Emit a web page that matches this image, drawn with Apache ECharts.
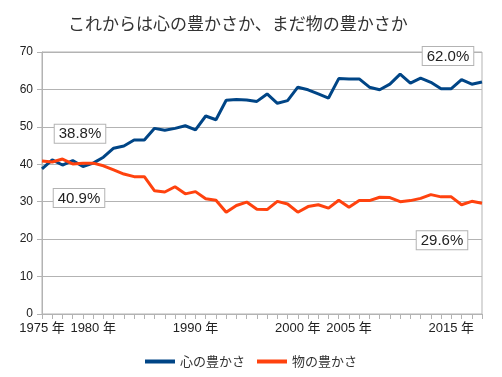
<!DOCTYPE html>
<html>
<head>
<meta charset="utf-8">
<script src="https://cdn.jsdelivr.net/npm/echarts@6/dist/echarts.min.js"></script>
<style>
  html, body { margin: 0; padding: 0; background: #fff; }
  #chart { width: 502px; height: 377px; }
</style>
</head>
<body>
<div id="chart"></div>
<script>
// 調査年
const years = []
for (let y = 1975; y <= 2018; y++) years.push(y)
const shownYears = [1975, 1980, 1990, 2000, 2005, 2015]

const kokoro = [
  38.8, 41.2, 39.8, 41.0, 39.4, 40.3, 41.9, 44.3, 44.9, 46.5,
  46.5, 49.6, 49.1, 49.6, 50.3, 49.2, 52.9, 51.9, 57.1, 57.3,
  57.2, 56.8, 58.8, 56.3, 57.0, 60.6, 59.9, 58.8, 57.7, 62.9,
  62.8, 62.8, 60.6, 59.9, 61.4, 64.1, 61.7, 63.0, 61.9, 60.2,
  60.2, 62.6, 61.4, 62.0
]
const mono = [
  40.9, 40.6, 41.4, 40.1, 40.3, 40.3, 39.6, 38.5, 37.4, 36.7,
  36.7, 32.9, 32.6, 34.0, 32.1, 32.7, 30.8, 30.4, 27.2, 29.0,
  29.9, 28.0, 27.9, 30.1, 29.4, 27.2, 28.7, 29.2, 28.3, 30.4,
  28.5, 30.3, 30.3, 31.2, 31.1, 30.0, 30.3, 30.9, 31.9, 31.3,
  31.3, 29.2, 30.1, 29.6
]

const font = "'Liberation Sans', 'Noto Sans CJK JP', sans-serif"

const boxLabel = {
  show: true,
  formatter: p => p.value.toFixed(1) + '%',
  fontSize: 15,
  fontFamily: font,
  color: '#222',
  backgroundColor: '#fff',
  borderColor: '#b3b3b3',
  borderWidth: 1,
  padding: [2, 4, 1, 4]
}

// 最初と最後の点だけにラベルを付ける
function withLabels(values, firstPos, firstOff, lastPos, lastOff) {
  return values.map((v, i) => {
    if (i === 0) return { value: v, label: Object.assign({}, boxLabel, { position: firstPos, offset: firstOff }) }
    if (i === values.length - 1) return { value: v, label: Object.assign({}, boxLabel, { position: lastPos, offset: lastOff }) }
    return v
  })
}

let myChart = echarts.init(document.getElementById('chart'))
let option = {
  backgroundColor: '#fff',
  animation: false,
  title: {
    text: 'これからは心の豊かさか、まだ物の豊かさか',
    left: 63,
    top: 10,
    textStyle: {
      fontSize: 17,
      fontWeight: 'normal',
      color: '#333',
      fontFamily: "'Noto Sans CJK JP', sans-serif"
    }
  },
  legend: {
    top: 350,
    left: 'center',
    icon: 'rect',
    itemWidth: 30,
    itemHeight: 4,
    itemGap: 12,
    textStyle: { fontSize: 13, color: '#333', fontFamily: "'Noto Sans CJK JP', sans-serif" },
    data: ['心の豊かさ', '物の豊かさ']
  },
  grid: {
    left: 42,
    right: 20,
    top: 52,
    bottom: 63,
    show: true,
    borderColor: '#b3b3b3',
    borderWidth: 1
  },
  xAxis: {
    type: 'category',
    boundaryGap: false,
    data: years.map(y => y + ' 年'),
    axisLine: { lineStyle: { color: '#b3b3b3' } },
    axisTick: { show: true, interval: 0, length: 5, lineStyle: { color: '#b3b3b3' } },
    axisLabel: {
      interval: (i) => shownYears.includes(years[i]),
      color: '#222',
      fontSize: 13,
      fontFamily: font,
      margin: 8
    },
    splitLine: { show: false }
  },
  yAxis: {
    type: 'value',
    min: 0,
    max: 70,
    interval: 10,
    axisLine: { show: true, lineStyle: { color: '#b3b3b3' } },
    axisTick: { show: true, length: 5, lineStyle: { color: '#b3b3b3' } },
    axisLabel: { color: '#222', fontSize: 12, fontFamily: font, margin: 9 },
    splitLine: { lineStyle: { color: '#b3b3b3' } }
  },
  series: [
    {
      name: '心の豊かさ',
      type: 'line',
      symbol: 'circle',
      symbolSize: 0,
      showAllSymbol: true,
      lineStyle: { width: 3, color: '#004586' },
      itemStyle: { color: '#004586' },
      data: withLabels(kokoro, 'top', [38, -21], 'top', [-34, -12])
    },
    {
      name: '物の豊かさ',
      type: 'line',
      symbol: 'circle',
      symbolSize: 0,
      showAllSymbol: true,
      lineStyle: { width: 3, color: '#ff420e' },
      itemStyle: { color: '#ff420e' },
      data: withLabels(mono, 'bottom', [37, 23], 'bottom', [-40, 23])
    }
  ]
}
myChart.setOption(option)

window.addEventListener('resize', () => {
  myChart.resize()
})
</script>
</body>
</html>
